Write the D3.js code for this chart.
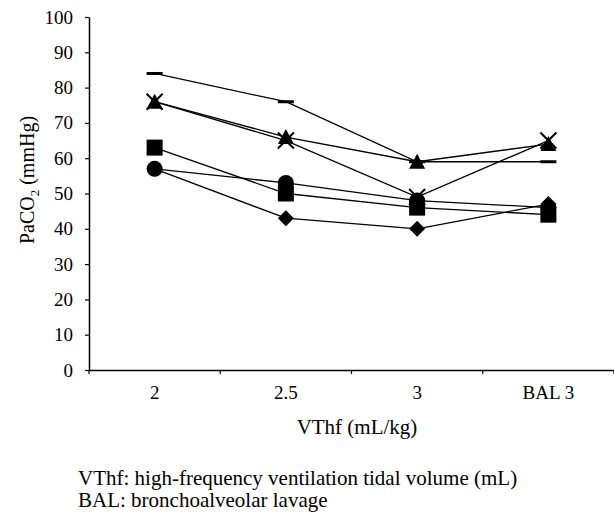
<!DOCTYPE html>
<html><head><meta charset="utf-8">
<script src="https://cdn.jsdelivr.net/npm/d3@7"></script>
<style>
html,body{margin:0;padding:0;background:#fff;}
svg text{font-family:"Liberation Serif","Times New Roman",serif;fill:#000;}
</style></head>
<body><svg id="c" width="614" height="514"></svg>
<script>
const categories = ["2", "2.5", "3", "BAL 3"];
const yTicks = [0,10,20,30,40,50,60,70,80,90,100];
const seriesDash     = [84, 76, 59, 59];
const seriesTriangle = [76, 66, 59, 64];
const seriesCross    = [76, 65, 49, 65];
const seriesSquare   = [63, 50, 46, 44];
const seriesCircle   = [57, 53, 48, 46];
const seriesDiamond  = [57, 43, 40, 47];
const series = [
  {name:"dash", values:seriesDash},
  {name:"triangle", values:seriesTriangle},
  {name:"cross", values:seriesCross},
  {name:"square", values:seriesSquare},
  {name:"circle", values:seriesCircle},
  {name:"diamond", values:seriesDiamond}
];

const svg = d3.select("#c");
const mLeft = 89, mRight = 614, mTop = 17, mBottom = 370;
const x = d3.scaleBand().domain(categories).range([mLeft, mRight]).padding(0);
const y = d3.scaleLinear().domain([0, 100]).range([mBottom, mTop]);
const cx = c => x(c) + x.bandwidth()/2;

// Y axis
const yAxis = svg.append("g").attr("transform", `translate(${mLeft},0)`)
  .call(d3.axisLeft(y).tickValues(yTicks).tickSize(4).tickPadding(12).tickSizeOuter(0));
yAxis.select(".domain").attr("stroke","#000").attr("stroke-width",1.5);
yAxis.selectAll(".tick line").attr("stroke","#000").attr("stroke-width",1.2);
yAxis.selectAll(".tick text").attr("font-size",19).attr("font-family","Liberation Serif");

// X axis
const xAxis = svg.append("g").attr("transform", `translate(0,${mBottom})`)
  .call(d3.axisBottom(x).tickSize(0).tickPadding(16).tickSizeOuter(0));
xAxis.select(".domain").attr("stroke","#000").attr("stroke-width",1.5);
xAxis.selectAll(".tick text").attr("font-size",19).attr("font-family","Liberation Serif");
const bounds = categories.map(c => x(c)).concat([mRight]);
xAxis.selectAll(".bt").data(bounds).enter().append("line")
  .attr("x1", d => d).attr("x2", d => d).attr("y1", 0).attr("y2", 4)
  .attr("stroke","#000").attr("stroke-width",1.2);

// Lines
const line = d3.line().x((d,i) => cx(categories[i])).y(d => y(d));
svg.append("g").selectAll("path").data(series).enter().append("path")
  .attr("d", d => line(d.values)).attr("fill","none")
  .attr("stroke","#000").attr("stroke-width",1.3);

// Markers
const mg = svg.append("g");
series.forEach(s => {
  s.values.forEach((v,i) => {
    const px = cx(categories[i]), py = y(v);
    const g = mg.append("g").attr("transform", `translate(${px},${py})`);
    if (s.name === "dash") {
      g.append("rect").attr("x",-8).attr("y",-1.5).attr("width",16).attr("height",3).attr("fill","#000");
    } else if (s.name === "triangle") {
      g.append("path").attr("d","M0,-8 L8,7 L-8,7 Z").attr("fill","#000");
    } else if (s.name === "cross") {
      g.append("path").attr("d","M-8,-8 L8,8 M8,-8 L-8,8").attr("stroke","#000").attr("stroke-width",2);
    } else if (s.name === "square") {
      g.append("rect").attr("x",-8).attr("y",-8).attr("width",16).attr("height",16).attr("fill","#000");
    } else if (s.name === "circle") {
      g.append("circle").attr("r",8).attr("fill","#000");
    } else if (s.name === "diamond") {
      g.append("path").attr("d","M0,-8 L8,0 L0,8 L-8,0 Z").attr("fill","#000");
    }
  });
});

// Axis titles
const yt = svg.append("text").attr("transform","translate(34,180) rotate(-90)")
  .attr("text-anchor","middle").attr("font-size",20);
yt.append("tspan").text("PaCO");
yt.append("tspan").attr("font-size",13).attr("dy",5).text("2");
yt.append("tspan").attr("dy",-5).text(" (mmHg)");

svg.append("text").attr("x",357).attr("y",434).attr("text-anchor","middle")
  .attr("font-size",21).text("VThf (mL/kg)");

svg.append("text").attr("x",78).attr("y",485).attr("font-size",21)
  .text("VThf: high-frequency ventilation tidal volume (mL)");
svg.append("text").attr("x",78).attr("y",507).attr("font-size",21)
  .text("BAL: bronchoalveolar lavage");
</script></body></html>
